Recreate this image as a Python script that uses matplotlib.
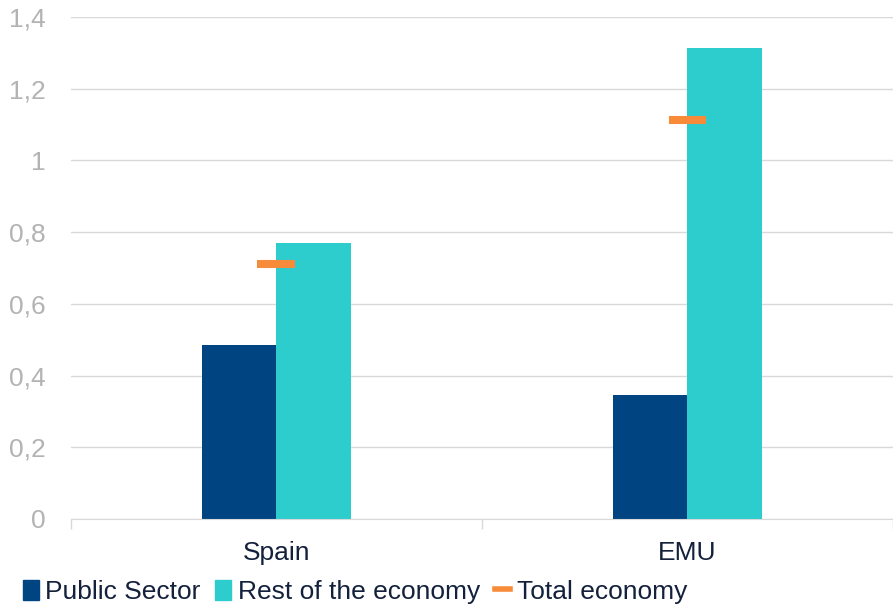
import matplotlib.pyplot as plt
from matplotlib.patches import Rectangle
from matplotlib.lines import Line2D

categories = ["Spain", "EMU"]
public_sector = [0.485, 0.346]
rest_economy = [0.770, 1.313]
total_economy = [0.711, 1.113]
ytick_vals = [0, 0.2, 0.4, 0.6, 0.8, 1.0, 1.2, 1.4]
ytick_labels = ["0", "0,2", "0,4", "0,6", "0,8", "1", "1,2", "1,4"]

c_public = "#004481"
c_rest = "#2DCCCD"
c_total = "#F78B3A"
c_text = "#14213D"
c_grid = "#D9D9D9"

plt.rcParams["font.family"] = ["Liberation Sans", "DejaVu Sans"]

fig = plt.figure(figsize=(8.93, 6.05), dpi=100)
ax = fig.add_axes([70.8 / 893, 86 / 605, 822.2 / 893, 502 / 605])

centers = [0.5, 1.5]
w = 0.182
for i, c in enumerate(centers):
    ax.bar(c - w / 2, public_sector[i], width=w, color=c_public, zorder=2)
    ax.bar(c + w / 2, rest_economy[i], width=w, color=c_rest, zorder=2)
    ax.hlines(total_economy[i], c - 0.046, c + 0.046, color=c_total,
              linewidth=5.8, zorder=3, capstyle="butt")

ax.set_xlim(0, 822.2 / 415)
ax.set_ylim(0, 1.4)
ax.set_yticks(ytick_vals)
ax.set_yticklabels(ytick_labels)
ax.yaxis.grid(True, color=c_grid, linewidth=1, zorder=0)
ax.tick_params(axis="y", length=0, pad=18, labelsize=19, labelcolor="#B3B3B3")

ax.set_xticks([0, 1, 2])
ax.set_xticklabels([])
ax.set_xticks(centers, minor=True)
ax.set_xticklabels(categories, minor=True)
ax.tick_params(axis="x", which="major", length=7, color=c_grid, width=1)
ax.tick_params(axis="x", which="minor", length=0, pad=16, labelsize=19, labelcolor=c_text)

for s in ["top", "right", "left"]:
    ax.spines[s].set_visible(False)
ax.spines["bottom"].set_color(c_grid)

handles = [
    Rectangle((0, 0), 1, 1, color=c_public),
    Rectangle((0, 0), 1, 1, color=c_rest),
    Line2D([0], [0], color=c_total, linewidth=4),
]
fig.legend(handles, ["Public Sector", "Rest of the economy", "Total economy"],
           loc="lower left", bbox_to_anchor=(0.014, -0.016), ncol=3, frameon=False,
           fontsize=19, labelcolor=c_text, handlelength=0.6, handleheight=0.8,
           handletextpad=0.25, columnspacing=0.55, borderaxespad=0)

fig.savefig("out.png", dpi=100)
